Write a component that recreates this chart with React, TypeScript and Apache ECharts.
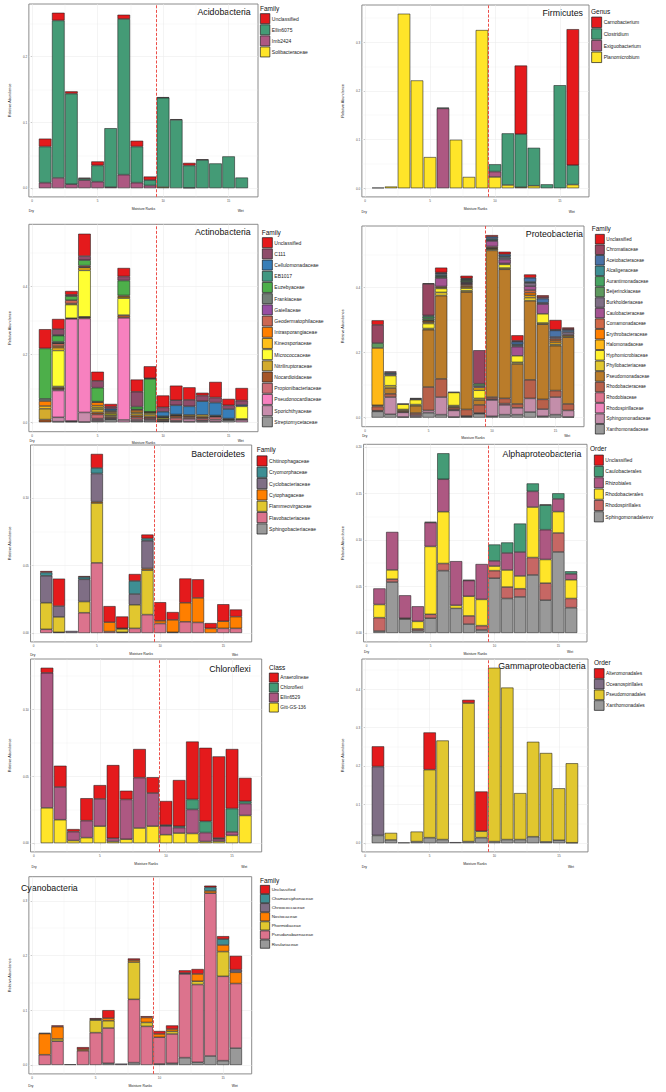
import React, { useEffect, useRef } from "react";
import * as echarts from "echarts";

// ---------- shared axis data ----------
const moistureRanks = [1, 2, 3, 4, 5, 6, 7, 8, 9, 10, 11, 12, 13, 14, 15, 16];
const xMajorTicks = [0, 5, 10, 15];
const xMinorTicks = [2.5, 7.5, 12.5];
const dividerRank = 9.5;

// ---------- Acidobacteria ----------
const acidoCategories = ["Unclassified", "Ellin6075", "Imb2424", "Solibacteraceae"];
const acidoValues = [
  [0.012, 0.0117, 0.0034, 0.001, 0.006, 0, 0.0064, 0.0088, 0.0054, 0.001, 0.001, 0.0039, 0.001, 0, 0, 0],
  [0.055, 0.2396, 0.138, 0.0025, 0.0248, 0.0897, 0.237, 0.055, 0.0082, 0.136, 0.1039, 0.034, 0.0429, 0.0376, 0.0483, 0.0161],
  [0.0083, 0.0156, 0.0059, 0.0122, 0.0098, 0.0015, 0.0205, 0.0083, 0.004, 0, 0, 0.0005, 0, 0, 0, 0],
  [0, 0, 0, 0, 0, 0, 0, 0, 0, 0.0015, 0, 0, 0, 0, 0, 0],
];
const acidoTicks = [0, 0.1, 0.2];

// ---------- Firmicutes ----------
const firmCategories = ["Carnobacterium", "Clostridium", "Exiguobacterium", "Planomicrobium"];
const firmValues = [
  [0, 0, 0, 0, 0, 0, 0, 0, 0, 0, 0, 0.141, 0, 0, 0, 0.2795],
  [0, 0, 0, 0, 0, 0.0015, 0, 0, 0, 0.015, 0.1061, 0.109, 0.078, 0.0079, 0.2116, 0.04],
  [0.001, 0, 0, 0, 0, 0.164, 0, 0, 0, 0.011, 0, 0, 0, 0, 0, 0],
  [0, 0.0033, 0.3586, 0.2215, 0.0639, 0, 0.0995, 0.0231, 0.325, 0.0231, 0.0066, 0.002, 0.005, 0, 0, 0.0073],
];
const firmTicks = [0, 0.1, 0.2, 0.3];

// ---------- Actinobacteria ----------
const actinoCategories = [
  "Unclassified", "C111", "Cellulomonadaceae", "EB1017", "Euzebyaceae", "Frankiaceae", "Gaiellaceae",
  "Geodermatophilaceae", "Intrasporangiaceae", "Kineosporiaceae", "Micrococcaceae", "Nitriliruptoraceae",
  "Nocardioidaceae", "Propionibacteriaceae", "Pseudonocardiaceae", "Sporichthyaceae", "Streptomycetaceae",
];
const actinoValues = [
  [0.0566, 0.03, 0.011, 0.066, 0.027, 0.008, 0.025, 0.036, 0.035, 0.035, 0.043, 0.037, 0.008, 0.046, 0.019, 0.037],
  [0, 0.017, 0.004, 0.012, 0.02, 0.006, 0.012, 0.044, 0.002, 0.013, 0.015, 0.019, 0.017, 0.015, 0.011, 0.013],
  [0, 0.002, 0, 0, 0, 0.005, 0, 0, 0, 0.013, 0.027, 0.025, 0.04, 0.038, 0.028, 0.004],
  [0, 0, 0, 0, 0, 0, 0, 0, 0, 0.003, 0, 0, 0, 0, 0.002, 0],
  [0.1486, 0.018, 0.012, 0.016, 0.041, 0, 0.044, 0.008, 0.097, 0, 0, 0, 0, 0, 0, 0],
  [0.0066, 0.004, 0, 0, 0, 0.003, 0, 0.002, 0.001, 0, 0, 0, 0, 0, 0, 0],
  [0, 0.001, 0, 0, 0, 0, 0, 0, 0, 0, 0, 0, 0, 0, 0, 0],
  [0, 0.008, 0.01, 0.004, 0.002, 0, 0, 0, 0, 0, 0, 0, 0, 0, 0, 0],
  [0.0146, 0.005, 0, 0.002, 0.01, 0.003, 0.004, 0.006, 0, 0, 0, 0, 0, 0, 0, 0],
  [0.008, 0.008, 0.003, 0.008, 0.006, 0.004, 0.004, 0.004, 0.003, 0.002, 0.002, 0, 0, 0, 0, 0],
  [0, 0.106, 0.04, 0.137, 0.004, 0.004, 0.05, 0, 0.004, 0.004, 0, 0, 0, 0, 0, 0.037],
  [0.032, 0.004, 0, 0.001, 0.01, 0.004, 0, 0.006, 0.006, 0, 0.002, 0.004, 0.006, 0.002, 0, 0],
  [0.008, 0.004, 0.002, 0.004, 0.006, 0.004, 0.008, 0.006, 0.004, 0.004, 0.006, 0.004, 0.004, 0.002, 0.003, 0.003],
  [0, 0.004, 0, 0, 0.012, 0.003, 0, 0.006, 0.004, 0, 0.008, 0.004, 0.006, 0.008, 0, 0],
  [0, 0.079, 0.301, 0.277, 0.003, 0, 0.301, 0, 0, 0, 0, 0, 0, 0, 0, 0],
  [0, 0.0126, 0.002, 0.028, 0.004, 0.002, 0.007, 0.004, 0.004, 0.002, 0.003, 0.008, 0.004, 0.006, 0, 0.007],
  [0, 0.002, 0.002, 0.001, 0.004, 0.008, 0, 0.004, 0.005, 0.003, 0.002, 0.002, 0.002, 0.002, 0.006, 0],
];
const actinoTicks = [0, 0.2, 0.4];

// ---------- Proteobacteria ----------
const proteoCategories = [
  "Unclassified", "Chromatiaceae", "Acetobacteraceae", "Alcaligenaceae", "Aurantimonadaceae", "Beijerinckiaceae",
  "Burkholderiaceae", "Caulobacteraceae", "Comamonadaceae", "Erythrobacteraceae", "Halomonadaceae",
  "Hyphomicrobiaceae", "Phyllobacteriaceae", "Pseudomonadaceae", "Rhodobacteraceae", "Rhodobiaceae",
  "Rhodospirillaceae", "Sphingomonadaceae", "Xanthomonadaceae",
];
const proteoValues = [
  [0.014, 0, 0, 0, 0.002, 0.015, 0, 0.008, 0, 0.005, 0.008, 0.017, 0.01, 0.005, 0.03, 0.004],
  [0.056, 0.004, 0.002, 0.002, 0.097, 0.002, 0.002, 0, 0.103, 0, 0, 0.003, 0, 0.005, 0.002, 0.004],
  [0, 0, 0, 0, 0, 0.004, 0, 0.002, 0, 0.006, 0.006, 0.008, 0.013, 0.013, 0.02, 0.006],
  [0, 0.004, 0, 0, 0.003, 0.004, 0, 0.003, 0, 0.004, 0.004, 0.003, 0.003, 0, 0, 0],
  [0, 0, 0, 0, 0.006, 0.003, 0, 0.003, 0, 0, 0, 0, 0, 0, 0, 0],
  [0.015, 0, 0, 0, 0.006, 0.004, 0, 0.004, 0.007, 0, 0, 0, 0, 0, 0, 0],
  [0, 0.005, 0, 0.003, 0, 0, 0, 0.003, 0.005, 0.003, 0.006, 0.004, 0.01, 0.004, 0.005, 0.008],
  [0, 0, 0, 0, 0, 0.026, 0, 0.003, 0, 0.017, 0.012, 0.028, 0.012, 0.03, 0, 0],
  [0, 0, 0, 0, 0.002, 0, 0, 0.004, 0, 0.004, 0.003, 0, 0.008, 0, 0.005, 0.004],
  [0, 0, 0, 0, 0.004, 0.003, 0, 0.004, 0, 0, 0, 0, 0.008, 0, 0.006, 0],
  [0.176, 0, 0, 0, 0.004, 0.003, 0, 0.004, 0.008, 0.002, 0, 0, 0.007, 0, 0.007, 0],
  [0, 0.031, 0.016, 0.015, 0.015, 0.012, 0.04, 0.008, 0.025, 0.002, 0.011, 0.02, 0, 0.028, 0, 0],
  [0, 0.007, 0.003, 0.004, 0.004, 0.01, 0.003, 0.004, 0.005, 0.004, 0.004, 0.005, 0.01, 0.004, 0.004, 0.004],
  [0.004, 0.018, 0.004, 0.022, 0.176, 0.256, 0.004, 0.361, 0.015, 0.451, 0.397, 0.123, 0.243, 0.231, 0.138, 0.205],
  [0.013, 0.01, 0.002, 0.006, 0.072, 0.056, 0.006, 0.02, 0.025, 0.006, 0.016, 0.012, 0.057, 0.03, 0.02, 0.02],
  [0, 0, 0, 0, 0, 0, 0, 0, 0, 0, 0.004, 0, 0, 0, 0, 0],
  [0, 0, 0, 0, 0, 0, 0.002, 0, 0, 0.003, 0, 0, 0, 0, 0, 0],
  [0.002, 0.053, 0.014, 0.005, 0.007, 0.054, 0.02, 0.002, 0.002, 0.05, 0.03, 0.021, 0.042, 0.022, 0.054, 0.02],
  [0.019, 0.01, 0.002, 0.003, 0.015, 0.009, 0.002, 0.003, 0.012, 0.004, 0.009, 0.009, 0.017, 0.004, 0.009, 0.002],
];
const proteoTicks = [0, 0.2, 0.4];

// ---------- Bacteroidetes ----------
const bactCategories = [
  "Chitinophagaceae", "Cryomorphaceae", "Cyclobacteriaceae", "Cytophagaceae",
  "Flammeovirgaceae", "Flavobacteriaceae", "Sphingobacteriaceae",
];
const bactValues = [
  [0.001, 0.0204, 0, 0.0007, 0.0104, 0.0119, 0.0087, 0.0051, 0.0029, 0.0138, 0.0058, 0.018, 0.0138, 0.0039, 0.0126, 0.0053],
  [0.0025, 0, 0, 0.0017, 0.0041, 0, 0, 0.0097, 0.0017, 0, 0, 0, 0, 0, 0, 0],
  [0.02, 0.008, 0.0015, 0.0165, 0.0209, 0, 0, 0.008, 0.0206, 0, 0, 0, 0, 0, 0, 0],
  [0, 0, 0, 0, 0.001, 0.007, 0.0005, 0, 0.0012, 0.002, 0.0092, 0.0141, 0.0182, 0.0034, 0.0053, 0.0087],
  [0.0197, 0.0114, 0, 0.0083, 0.0444, 0, 0.0025, 0.0175, 0.033, 0, 0, 0, 0, 0, 0, 0],
  [0.0027, 0.0005, 0, 0.015, 0.052, 0.001, 0.0005, 0.0034, 0.0136, 0.007, 0, 0.0083, 0.0078, 0, 0.0034, 0.0034],
  [0, 0, 0, 0, 0, 0, 0, 0, 0, 0, 0.0005, 0, 0, 0, 0, 0],
];
const bactTicks = [0, 0.05, 0.1];

// ---------- Alphaproteobacteria ----------
const alphaCategories = [
  "Unclassified", "Caulobacterales", "Rhizobiales", "Rhodobacterales", "Rhodospirillales", "Sphingomonadalesvv",
];
const alphaValues = [
  [0, 0, 0, 0, 0, 0, 0, 0.0007, 0, 0, 0, 0, 0, 0.0007, 0, 0],
  [0, 0, 0, 0, 0.0007, 0.0279, 0, 0, 0, 0.0176, 0.0113, 0.0306, 0.0085, 0.0264, 0.006, 0.0028],
  [0.0173, 0.0408, 0.0246, 0.0162, 0.0257, 0.0349, 0.0475, 0.0169, 0.038, 0.0056, 0.0183, 0.0257, 0.0169, 0.032, 0.0137, 0.0063],
  [0.0141, 0.0099, 0, 0.0081, 0.0729, 0.0556, 0.0032, 0.0211, 0.0282, 0.0049, 0.0183, 0.0137, 0.0542, 0.0254, 0.0229, 0.0201],
  [0.0144, 0.0032, 0.001, 0.0018, 0.0042, 0.0077, 0, 0.0088, 0.0046, 0.0081, 0.0123, 0.0088, 0.0187, 0.0183, 0.0204, 0.0099],
  [0.002, 0.0546, 0.0148, 0.0025, 0.0158, 0.0669, 0.0264, 0.0095, 0.0032, 0.0588, 0.037, 0.0387, 0.0623, 0.0352, 0.087, 0.0271],
];
const alphaTicks = [0, 0.05, 0.1, 0.15, 0.2];

// ---------- Chloroflexi ----------
const chloroCategories = ["Anaerolineae", "Chloroflexi", "Ellin6529", "Gitt-GS-136"];
const chloroValues = [
  [0.0038, 0.0159, 0.0019, 0.0168, 0.0103, 0.0548, 0.0065, 0.0214, 0.0118, 0.018, 0.0346, 0.0433, 0.055, 0.0611, 0.0445, 0.0175],
  [0, 0, 0, 0, 0, 0, 0, 0, 0, 0.0007, 0.001, 0.0075, 0.0084, 0.0007, 0.0175, 0.0017],
  [0.101, 0.0245, 0.0067, 0.0127, 0.0204, 0.0024, 0.0298, 0.0377, 0.0248, 0.0065, 0.0041, 0.018, 0.0067, 0.0017, 0.0026, 0.0089],
  [0.0264, 0.0175, 0.0019, 0.0041, 0.0127, 0.0012, 0.0029, 0.0113, 0.0127, 0.0063, 0.0075, 0.0072, 0.0012, 0.0014, 0.0058, 0.0207],
];
const chloroTicks = [0, 0.05, 0.1];

// ---------- Gammaproteobacteria ----------
const gammaCategories = ["Alteromonadales", "Oceanospirillales", "Pseudomonadales", "Xanthomonadales"];
const gammaValues = [
  [0.0525, 0, 0, 0, 0.0967, 0, 0, 0.0083, 0.1033, 0, 0, 0, 0, 0, 0, 0],
  [0.179, 0, 0.0017, 0, 0, 0, 0.0025, 0, 0, 0, 0, 0, 0, 0, 0, 0],
  [0, 0.0183, 0, 0.026, 0.1767, 0.2575, 0, 0.36, 0.0167, 0.4517, 0.395, 0.1208, 0.2466, 0.2309, 0.135, 0.2065],
  [0.02, 0.0083, 0, 0.004, 0.0142, 0.0092, 0, 0.004, 0.0142, 0.004, 0.0092, 0.0092, 0.0167, 0.0033, 0.0075, 0.001],
];
const gammaTicks = [0, 0.1, 0.2, 0.3, 0.4];

// ---------- Cyanobacteria ----------
const cyanoCategories = [
  "Unclassified", "Chamaesiphonaceae", "Chroococcaceae", "Nostocaceae",
  "Phormidiaceae", "Pseudanabaenaceae", "Rivulariaceae",
];
const cyanoValues = [
  [0.0012, 0.0024, 0, 0.0036, 0.0018, 0.0145, 0, 0.003, 0.0024, 0.0054, 0.0066, 0.0048, 0.009, 0.003, 0.0054, 0.0253],
  [0, 0, 0, 0, 0, 0, 0, 0, 0, 0, 0, 0.0018, 0, 0.0066, 0.0108, 0],
  [0, 0, 0.0012, 0, 0, 0, 0.0024, 0, 0, 0, 0, 0, 0, 0, 0, 0.0048],
  [0.0386, 0.0223, 0, 0.003, 0.0018, 0.0048, 0, 0.0036, 0.009, 0.006, 0.0042, 0, 0.0133, 0.0042, 0.012, 0.0205],
  [0, 0.0042, 0, 0, 0.0229, 0.0133, 0, 0.0681, 0.0072, 0, 0.0048, 0, 0.006, 0, 0.0452, 0],
  [0.0187, 0.0434, 0, 0.0259, 0.059, 0.0645, 0, 0.1157, 0.0705, 0.0488, 0.0536, 0.153, 0.1422, 0.2976, 0.1542, 0.1181],
  [0, 0, 0, 0, 0, 0.003, 0, 0.0042, 0, 0.0018, 0.003, 0.0133, 0.0048, 0.0163, 0.0078, 0.0307],
];
const cyanoTicks = [0, 0.1, 0.2, 0.3];

// ---------- styling helpers ----------
const FONT = "'Liberation Sans', Arial, Helvetica, sans-serif";
const XMIN = -0.245;
const XMAX = 17.245;
const SET1 = ["#E41A1C", "#377EB8", "#4DAF4A", "#984EA3", "#FF7F00", "#FFFF33", "#A65628", "#F781BF", "#999999"];
const KEY_BORDER = 0.7;

function hexToRgb(h: string) {
  return [parseInt(h.slice(1, 3), 16), parseInt(h.slice(3, 5), 16), parseInt(h.slice(5, 7), 16)];
}
function rampColor(n: number, i: number) {
  const t = n <= 1 ? 0 : (i * 8) / (n - 1);
  const lo = Math.min(8, Math.floor(t));
  const hi = Math.min(8, lo + 1);
  const f = t - lo;
  const a = hexToRgb(SET1[lo]);
  const b = hexToRgb(SET1[hi]);
  const c = a.map((v, k) => Math.round(v + (b[k] - v) * f));
  return `rgb(${c[0]},${c[1]},${c[2]})`;
}

type Panel = {
  key: string;
  title: string;
  titleX: number;
  titleY: number;
  titleAlign: "left" | "right";
  legendTitle: string;
  categories: string[];
  values: number[][];
  yTicks: number[];
  digits: number;
  paletteN: number;
  paletteIdx: number[];
  box: number[];
  grid: number[];
  lgTitle: number[];
  lgKey: number[]; // x, y, w, h, step
  lgFont: number;
};

const panels: Panel[] = [
  {
    key: "acido", title: "Acidobacteria", titleX: 250.7, titleY: 11.7, titleAlign: "right",
    legendTitle: "Family", categories: acidoCategories, values: acidoValues, yTicks: acidoTicks, digits: 1,
    paletteN: 6, paletteIdx: [0, 1, 2, 3],
    box: [0, 0, 333, 215], grid: [14, 4, 244, 198],
    lgTitle: [260, 8.3], lgKey: [260, 13.3, 9.5, 10, 11.1], lgFont: 5,
  },
  {
    key: "firm", title: "Firmicutes", titleX: 250, titleY: 13.3, titleAlign: "right",
    legendTitle: "Genus", categories: firmCategories, values: firmValues, yTicks: firmTicks, digits: 1,
    paletteN: 6, paletteIdx: [0, 1, 2, 3],
    box: [333, 0, 333, 215], grid: [14, 5, 242, 198],
    lgTitle: [258, 11], lgKey: [258.3, 16.7, 10, 10.5, 11.67], lgFont: 5,
  },
  {
    key: "actino", title: "Actinobacteria", titleX: 250.7, titleY: 17.3, titleAlign: "right",
    legendTitle: "Family", categories: actinoCategories, values: actinoValues, yTicks: actinoTicks, digits: 1,
    paletteN: 17, paletteIdx: actinoCategories.map((_, i) => i),
    box: [0, 215, 333, 250], grid: [14.7, 9.3, 243.3, 207.4],
    lgTitle: [261.7, 17.3], lgKey: [262, 22.3, 10, 10, 11.2], lgFont: 5,
  },
  {
    key: "proteo", title: "Proteobacteria", titleX: 250, titleY: 19, titleAlign: "right",
    legendTitle: "Family", categories: proteoCategories, values: proteoValues, yTicks: proteoTicks, digits: 1,
    paletteN: 19, paletteIdx: proteoCategories.map((_, i) => i),
    box: [333, 215, 333, 260], grid: [15, 11, 236, 200.7],
    lgTitle: [258.7, 13.7], lgKey: [262, 19, 9, 9.6, 10.56], lgFont: 4.7,
  },
  {
    key: "bact", title: "Bacteroidetes", titleX: 245, titleY: 14, titleAlign: "right",
    legendTitle: "Family", categories: bactCategories, values: bactValues, yTicks: bactTicks, digits: 2,
    paletteN: 7, paletteIdx: bactCategories.map((_, i) => i),
    box: [0, 440, 333, 220], grid: [16, 5, 235.7, 200.7],
    lgTitle: [256.7, 9.3], lgKey: [256.7, 15.5, 10, 10.2, 11.33], lgFont: 5,
  },
  {
    key: "alpha", title: "Alphaproteobacteria", titleX: 248.3, titleY: 14, titleAlign: "right",
    legendTitle: "Order", categories: alphaCategories, values: alphaValues, yTicks: alphaTicks, digits: 2,
    paletteN: 6, paletteIdx: alphaCategories.map((_, i) => i),
    box: [333, 440, 333, 220], grid: [16.7, 4.3, 237.3, 199],
    lgTitle: [257, 8.7], lgKey: [261, 14.7, 9, 10.2, 11.33], lgFont: 5,
  },
  {
    key: "chloro", title: "Chloroflexi", titleX: 250.7, titleY: 14, titleAlign: "right",
    legendTitle: "Class", categories: chloroCategories, values: chloroValues, yTicks: chloroTicks, digits: 2,
    paletteN: 6, paletteIdx: [0, 1, 2, 3],
    box: [0, 655, 333, 215], grid: [16.7, 4, 245, 199.3],
    lgTitle: [269, 12.3], lgKey: [269, 17.7, 9, 9, 10], lgFont: 4.8,
  },
  {
    key: "gamma", title: "Gammaproteobacteria", titleX: 252.7, titleY: 10.7, titleAlign: "right",
    legendTitle: "Order", categories: gammaCategories, values: gammaValues, yTicks: gammaTicks, digits: 1,
    paletteN: 7, paletteIdx: [0, 2, 4, 6],
    box: [333, 655, 333, 215], grid: [14.3, 4, 240.7, 198.7],
    lgTitle: [261, 7.7], lgKey: [261, 13.3, 9.7, 9.7, 10.67], lgFont: 4.8,
  },
  {
    key: "cyano", title: "Cyanobacteria", titleX: 21, titleY: 18.3, titleAlign: "left",
    legendTitle: "Family", categories: cyanoCategories, values: cyanoValues, yTicks: cyanoTicks, digits: 1,
    paletteN: 7, paletteIdx: cyanoCategories.map((_, i) => i),
    box: [0, 870, 333, 222], grid: [14, 6.7, 237.7, 200],
    lgTitle: [260, 10], lgKey: [260, 15, 9.3, 8.3, 9.1], lgFont: 4.4,
  },
];

function buildOption(p: Panel) {
  const [gl, gt, gw, gh] = p.grid;
  const totals = moistureRanks.map((_, i) => p.values.reduce((s, arr) => s + arr[i], 0));
  const M = Math.max(...totals);
  const ymin = -0.05 * M;
  const ymax = 1.05 * M;
  const pxPerX = gw / (XMAX - XMIN);
  const barWidth = 0.9 * pxPerX;
  const xToPx = (x: number) => gl + (x - XMIN) * pxPerX;
  const stepY = p.yTicks[1] - p.yTicks[0];
  const yMinor = p.yTicks.map((v) => v + stepY / 2).filter((v) => v < ymax);
  const yMajor = p.yTicks.filter((v) => v <= ymax);
  const colors = p.paletteIdx.map((i) => rampColor(p.paletteN, i));

  const gridLineData: any[] = [
    ...xMinorTicks.map((x) => ({ coords: [[x, ymin], [x, ymax]], lineStyle: { width: 0.3 } })),
    ...xMajorTicks.map((x) => ({ coords: [[x, ymin], [x, ymax]], lineStyle: { width: 0.55 } })),
    ...yMinor.map((y) => ({ coords: [[XMIN, y], [XMAX, y]], lineStyle: { width: 0.3 } })),
    ...yMajor.map((y) => ({ coords: [[XMIN, y], [XMAX, y]], lineStyle: { width: 0.55 } })),
  ];

  // bottom of the stack = last legend entry, so add series in reverse legend order
  const order = p.categories.map((c, i) => i).reverse();
  const barSeries = order.map((ci) => ({
    type: "bar",
    name: p.categories[ci],
    stack: "total",
    barWidth,
    silent: true,
    z: 2,
    // value first so that the stacked dimension is the y value
    encode: { x: 1, y: 0 },
    itemStyle: { color: colors[ci], borderColor: "#1a1a1a", borderWidth: 0.55 },
    data: moistureRanks.map((x, k) => [p.values[ci][k] > 0 ? p.values[ci][k] : null, x]),
  }));

  const bottom = gt + gh;
  return {
    animation: false,
    textStyle: { fontFamily: FONT },
    grid: {
      left: gl, top: gt, width: gw, height: gh, show: true,
      backgroundColor: "#ffffff", borderColor: "#7f7f7f", borderWidth: 0.9,
    },
    xAxis: {
      type: "value", min: XMIN, max: XMAX,
      axisLine: { show: false },
      splitLine: { show: false },
      axisTick: { show: true, customValues: xMajorTicks, length: 1.2, lineStyle: { color: "#444", width: 0.5 } },
      axisLabel: { customValues: xMajorTicks, fontSize: 3, color: "#4d4d4d", margin: 2.2, fontFamily: FONT },
      name: "Moisture Ranks", nameLocation: "middle", nameGap: 7.2,
      nameTextStyle: { fontSize: 3.4, color: "#1a1a1a", fontFamily: FONT },
    },
    yAxis: {
      type: "value", min: ymin, max: ymax,
      axisLine: { show: false },
      splitLine: { show: false },
      axisTick: { show: true, customValues: yMajor, length: 1.2, lineStyle: { color: "#444", width: 0.5 } },
      axisLabel: {
        customValues: yMajor, fontSize: 3, color: "#4d4d4d", margin: 1.8, fontFamily: FONT,
        formatter: (v: number) => Number(v).toFixed(p.digits),
      },
      name: "Relative Abundance", nameLocation: "middle", nameRotate: 90, nameGap: gl - 7,
      nameTextStyle: { fontSize: 3.8, color: "#1a1a1a", fontFamily: FONT },
    },
    legend: {
      orient: "vertical",
      left: p.lgKey[0], top: p.lgKey[1],
      itemWidth: p.lgKey[2], itemHeight: p.lgKey[3],
      itemGap: Math.max(0, p.lgKey[4] - p.lgKey[3] - KEY_BORDER),
      padding: 0, icon: "rect", selectedMode: false,
      itemStyle: { borderColor: "#1a1a1a", borderWidth: KEY_BORDER },
      textStyle: { fontSize: p.lgFont, color: "#1a1a1a", fontFamily: FONT, padding: [0, 0, 0, -3] },
      data: p.categories,
    },
    graphic: [
      {
        type: "text", x: p.titleX, y: p.titleY, silent: true,
        style: {
          text: p.title, fontSize: 8.8, fill: "#111", fontFamily: FONT,
          align: p.titleAlign, textAlign: p.titleAlign, verticalAlign: "middle", textVerticalAlign: "middle",
        },
      },
      {
        type: "text", x: p.lgTitle[0], y: p.lgTitle[1], silent: true,
        style: {
          text: p.legendTitle, fontSize: 6.5, fill: "#111", fontFamily: FONT,
          align: "left", textAlign: "left", verticalAlign: "middle", textVerticalAlign: "middle",
        },
      },
      {
        type: "text", x: xToPx(moistureRanks[0]), y: bottom + 9, silent: true,
        style: {
          text: "Dry", fontSize: 3.4, fill: "#1a1a1a", fontFamily: FONT,
          align: "center", textAlign: "center", verticalAlign: "middle", textVerticalAlign: "middle",
        },
      },
      {
        type: "text", x: xToPx(moistureRanks[moistureRanks.length - 1]), y: bottom + 9, silent: true,
        style: {
          text: "Wet", fontSize: 3.4, fill: "#1a1a1a", fontFamily: FONT,
          align: "center", textAlign: "center", verticalAlign: "middle", textVerticalAlign: "middle",
        },
      },
    ],
    series: [
      {
        type: "lines", coordinateSystem: "cartesian2d", silent: true, z: 1, polyline: false,
        lineStyle: { color: "#ebebeb", width: 0.5, opacity: 1, curveness: 0 },
        data: gridLineData,
      },
      ...barSeries,
      {
        type: "lines", coordinateSystem: "cartesian2d", silent: true, z: 5, polyline: false,
        lineStyle: { color: "#ec4f49", width: 1, opacity: 1, type: [3, 1.6], curveness: 0 },
        data: [{ coords: [[dividerRank, ymin], [dividerRank, ymax]] }],
      },
    ],
  };
}

export default function App() {
  const refs = useRef<(HTMLDivElement | null)[]>([]);
  useEffect(() => {
    const charts = panels.map((p, i) => {
      const el = refs.current[i] as HTMLDivElement;
      const c = echarts.init(el, undefined, { renderer: "svg" });
      c.setOption(buildOption(p) as any);
      return c;
    });
    return () => charts.forEach((c) => c.dispose());
  }, []);
  return (
    <div style={{ position: "absolute", left: 0, top: 0, width: 666, height: 1092, background: "#ffffff" }}>
      {panels.map((p, i) => (
        <div
          key={p.key}
          ref={(el) => {
            refs.current[i] = el;
          }}
          style={{ position: "absolute", left: p.box[0], top: p.box[1], width: p.box[2], height: p.box[3] }}
        />
      ))}
    </div>
  );
}
